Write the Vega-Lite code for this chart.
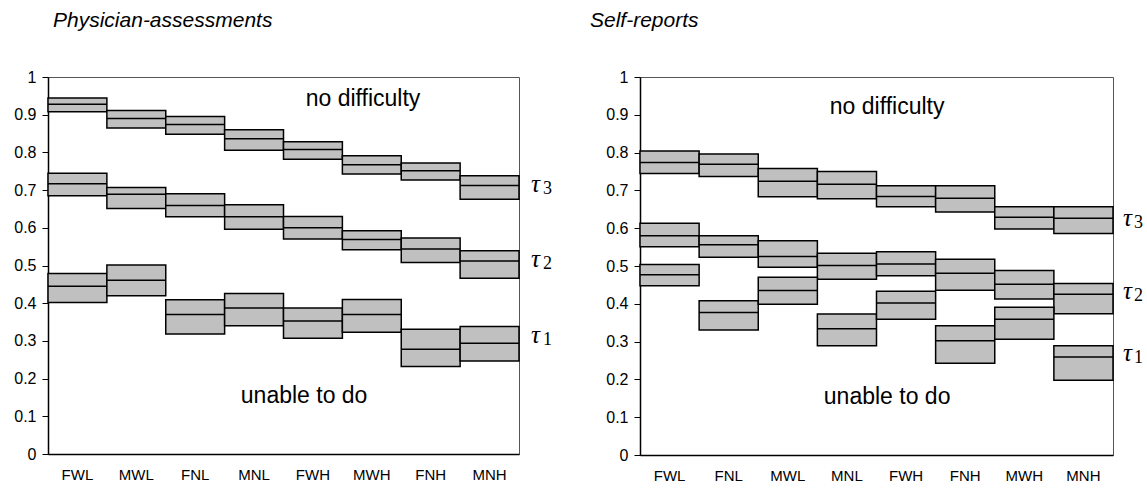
{
  "$schema": "https://vega.github.io/schema/vega-lite/v6.json",
  "background": "white",
  "padding": {"left": 13, "top": 9, "right": 5, "bottom": 5},
  "config": {
    "font": "Liberation Sans",
    "view": {"stroke": "#555555", "strokeWidth": 1},
    "axis": {"grid": false, "domainColor": "#000000", "domainWidth": 1.5, "tickColor": "#000000", "labelColor": "#000000", "labelFont": "Liberation Sans", "title": null},
    "axisX": {"ticks": false, "labelFontSize": 15, "labelPadding": 13, "labelAngle": 0},
    "title": {"font": "Liberation Sans", "fontStyle": "italic", "fontWeight": "normal", "fontSize": 21, "color": "#000000", "anchor": "start", "frame": "group"}
  },
  "datasets": {
    "boxes": [
      {"panel": "P", "cat": "FWL", "tau": "t3", "lo": 0.908, "mid": 0.928, "hi": 0.944},
      {"panel": "P", "cat": "MWL", "tau": "t3", "lo": 0.865, "mid": 0.890, "hi": 0.911},
      {"panel": "P", "cat": "FNL", "tau": "t3", "lo": 0.848, "mid": 0.874, "hi": 0.895},
      {"panel": "P", "cat": "MNL", "tau": "t3", "lo": 0.806, "mid": 0.836, "hi": 0.860},
      {"panel": "P", "cat": "FWH", "tau": "t3", "lo": 0.782, "mid": 0.808, "hi": 0.828},
      {"panel": "P", "cat": "MWH", "tau": "t3", "lo": 0.743, "mid": 0.767, "hi": 0.791},
      {"panel": "P", "cat": "FNH", "tau": "t3", "lo": 0.727, "mid": 0.751, "hi": 0.772},
      {"panel": "P", "cat": "MNH", "tau": "t3", "lo": 0.676, "mid": 0.712, "hi": 0.738},
      {"panel": "P", "cat": "FWL", "tau": "t2", "lo": 0.685, "mid": 0.717, "hi": 0.745},
      {"panel": "P", "cat": "MWL", "tau": "t2", "lo": 0.651, "mid": 0.689, "hi": 0.707},
      {"panel": "P", "cat": "FNL", "tau": "t2", "lo": 0.629, "mid": 0.659, "hi": 0.690},
      {"panel": "P", "cat": "MNL", "tau": "t2", "lo": 0.596, "mid": 0.629, "hi": 0.661},
      {"panel": "P", "cat": "FWH", "tau": "t2", "lo": 0.570, "mid": 0.600, "hi": 0.630},
      {"panel": "P", "cat": "MWH", "tau": "t2", "lo": 0.542, "mid": 0.569, "hi": 0.592},
      {"panel": "P", "cat": "FNH", "tau": "t2", "lo": 0.508, "mid": 0.544, "hi": 0.573},
      {"panel": "P", "cat": "MNH", "tau": "t2", "lo": 0.466, "mid": 0.512, "hi": 0.539},
      {"panel": "P", "cat": "FWL", "tau": "t1", "lo": 0.402, "mid": 0.445, "hi": 0.479},
      {"panel": "P", "cat": "MWL", "tau": "t1", "lo": 0.420, "mid": 0.461, "hi": 0.501},
      {"panel": "P", "cat": "FNL", "tau": "t1", "lo": 0.318, "mid": 0.370, "hi": 0.409},
      {"panel": "P", "cat": "MNL", "tau": "t1", "lo": 0.340, "mid": 0.387, "hi": 0.426},
      {"panel": "P", "cat": "FWH", "tau": "t1", "lo": 0.307, "mid": 0.353, "hi": 0.387},
      {"panel": "P", "cat": "MWH", "tau": "t1", "lo": 0.323, "mid": 0.370, "hi": 0.410},
      {"panel": "P", "cat": "FNH", "tau": "t1", "lo": 0.232, "mid": 0.278, "hi": 0.331},
      {"panel": "P", "cat": "MNH", "tau": "t1", "lo": 0.247, "mid": 0.294, "hi": 0.338},
      {"panel": "S", "cat": "FWL", "tau": "t3", "lo": 0.745, "mid": 0.774, "hi": 0.804},
      {"panel": "S", "cat": "FNL", "tau": "t3", "lo": 0.737, "mid": 0.769, "hi": 0.796},
      {"panel": "S", "cat": "MWL", "tau": "t3", "lo": 0.683, "mid": 0.724, "hi": 0.758},
      {"panel": "S", "cat": "MNL", "tau": "t3", "lo": 0.678, "mid": 0.716, "hi": 0.750},
      {"panel": "S", "cat": "FWH", "tau": "t3", "lo": 0.657, "mid": 0.684, "hi": 0.712},
      {"panel": "S", "cat": "FNH", "tau": "t3", "lo": 0.643, "mid": 0.679, "hi": 0.712},
      {"panel": "S", "cat": "MWH", "tau": "t3", "lo": 0.598, "mid": 0.629, "hi": 0.657},
      {"panel": "S", "cat": "MNH", "tau": "t3", "lo": 0.586, "mid": 0.626, "hi": 0.657},
      {"panel": "S", "cat": "FWL", "tau": "t2", "lo": 0.551, "mid": 0.580, "hi": 0.613},
      {"panel": "S", "cat": "FNL", "tau": "t2", "lo": 0.523, "mid": 0.556, "hi": 0.580},
      {"panel": "S", "cat": "MWL", "tau": "t2", "lo": 0.497, "mid": 0.525, "hi": 0.567},
      {"panel": "S", "cat": "MNL", "tau": "t2", "lo": 0.465, "mid": 0.501, "hi": 0.534},
      {"panel": "S", "cat": "FWH", "tau": "t2", "lo": 0.474, "mid": 0.505, "hi": 0.538},
      {"panel": "S", "cat": "FNH", "tau": "t2", "lo": 0.436, "mid": 0.481, "hi": 0.518},
      {"panel": "S", "cat": "MWH", "tau": "t2", "lo": 0.413, "mid": 0.452, "hi": 0.488},
      {"panel": "S", "cat": "MNH", "tau": "t2", "lo": 0.374, "mid": 0.425, "hi": 0.454},
      {"panel": "S", "cat": "FWL", "tau": "t1", "lo": 0.448, "mid": 0.477, "hi": 0.504},
      {"panel": "S", "cat": "FNL", "tau": "t1", "lo": 0.331, "mid": 0.377, "hi": 0.408},
      {"panel": "S", "cat": "MWL", "tau": "t1", "lo": 0.399, "mid": 0.435, "hi": 0.470},
      {"panel": "S", "cat": "MNL", "tau": "t1", "lo": 0.289, "mid": 0.334, "hi": 0.373},
      {"panel": "S", "cat": "FWH", "tau": "t1", "lo": 0.359, "mid": 0.402, "hi": 0.433},
      {"panel": "S", "cat": "FNH", "tau": "t1", "lo": 0.243, "mid": 0.302, "hi": 0.342},
      {"panel": "S", "cat": "MWH", "tau": "t1", "lo": 0.306, "mid": 0.359, "hi": 0.391},
      {"panel": "S", "cat": "MNH", "tau": "t1", "lo": 0.198, "mid": 0.259, "hi": 0.289}
    ],
    "notes": [
      {"panel": "P", "cat": "MWH", "label": "no difficulty", "y": 0.942},
      {"panel": "P", "cat": "FWH", "label": "unable to do", "y": 0.154},
      {"panel": "S", "cat": "FWH", "label": "no difficulty", "y": 0.921},
      {"panel": "S", "cat": "FWH", "label": "unable to do", "y": 0.154}
    ],
    "taus": [
      {"panel": "P", "cat": "MNH", "sym": "τ", "sub": "3", "y": 0.716},
      {"panel": "P", "cat": "MNH", "sym": "τ", "sub": "2", "y": 0.517},
      {"panel": "P", "cat": "MNH", "sym": "τ", "sub": "1", "y": 0.315},
      {"panel": "S", "cat": "MNH", "sym": "τ", "sub": "3", "y": 0.627},
      {"panel": "S", "cat": "MNH", "sym": "τ", "sub": "2", "y": 0.434},
      {"panel": "S", "cat": "MNH", "sym": "τ", "sub": "1", "y": 0.270}
    ]
  },
  "spacing": 121,
  "bounds": "flush",
  "hconcat": [
    {
      "title": {"text": "Physician-assessments", "dx": 5, "offset": 38},
      "width": 471,
      "height": 377,
      "encoding": {
        "x": {"field": "cat", "type": "nominal", "sort": ["FWL", "MWL", "FNL", "MNL", "FWH", "MWH", "FNH", "MNH"], "scale": {"paddingInner": 0, "paddingOuter": 0}},
        "y": {"field": "lo", "type": "quantitative", "scale": {"domain": [0, 1], "nice": false},
              "axis": {"values": [0, 0.1, 0.2, 0.3, 0.4, 0.5, 0.6, 0.7, 0.8, 0.9, 1], "labelExpr": "datum.value == 0 ? '0' : datum.value == 1 ? '1' : format(datum.value, '.1f')", "labelOverlap": false, "labelSeparation": 0, "labelFontSize": 16, "tickSize": 6, "labelPadding": 6}}
      },
      "layer": [
        {
          "data": {"name": "boxes"},
          "transform": [{"filter": "datum.panel == 'P'"}],
          "mark": {"type": "rect", "fill": "#c0c0c0", "stroke": "#000000", "strokeWidth": 1.5},
          "encoding": {"y2": {"field": "hi"}}
        },
        {
          "data": {"name": "boxes"},
          "transform": [{"filter": "datum.panel == 'P'"}],
          "mark": {"type": "rect", "fill": "#000000", "stroke": "#000000", "strokeWidth": 1.5},
          "encoding": {
            "y": {"field": "mid", "type": "quantitative"},
            "y2": {"field": "mid"}
          }
        },
        {
          "data": {"name": "notes"},
          "transform": [{"filter": "datum.panel == 'P'"}],
          "mark": {"type": "text", "fontSize": 23, "font": "Liberation Sans", "color": "#000000", "baseline": "middle"},
          "encoding": {
            "x": {"field": "cat", "type": "nominal", "sort": ["FWL", "MWL", "FNL", "MNL", "FWH", "MWH", "FNH", "MNH"], "bandPosition": 0.35},
            "y": {"field": "y", "type": "quantitative"},
            "text": {"field": "label"}
          }
        },
        {
          "data": {"name": "taus"},
          "transform": [{"filter": "datum.panel == 'P'"}],
          "mark": {"type": "text", "fontSize": 25, "font": "Liberation Serif", "fontStyle": "italic", "color": "#000000", "baseline": "middle", "align": "left", "dx": 12},
          "encoding": {
            "x": {"field": "cat", "type": "nominal", "sort": ["FWL", "MWL", "FNL", "MNL", "FWH", "MWH", "FNH", "MNH"], "bandPosition": 1},
            "y": {"field": "y", "type": "quantitative"},
            "text": {"field": "sym"}
          }
        },
        {
          "data": {"name": "taus"},
          "transform": [{"filter": "datum.panel == 'P'"}],
          "mark": {"type": "text", "fontSize": 18, "font": "Liberation Serif", "color": "#000000", "baseline": "middle", "align": "left", "dx": 24, "dy": 5},
          "encoding": {
            "x": {"field": "cat", "type": "nominal", "sort": ["FWL", "MWL", "FNL", "MNL", "FWH", "MWH", "FNH", "MNH"], "bandPosition": 1},
            "y": {"field": "y", "type": "quantitative"},
            "text": {"field": "sub"}
          }
        }
      ]
    },
    {
      "title": {"text": "Self-reports", "dx": -50, "offset": 38},
      "width": 473,
      "height": 378,
      "encoding": {
        "x": {"field": "cat", "type": "nominal", "sort": ["FWL", "FNL", "MWL", "MNL", "FWH", "FNH", "MWH", "MNH"], "scale": {"paddingInner": 0, "paddingOuter": 0}},
        "y": {"field": "lo", "type": "quantitative", "scale": {"domain": [0, 1], "nice": false},
              "axis": {"values": [0, 0.1, 0.2, 0.3, 0.4, 0.5, 0.6, 0.7, 0.8, 0.9, 1], "labelExpr": "datum.value == 0 ? '0' : datum.value == 1 ? '1' : format(datum.value, '.1f')", "labelOverlap": false, "labelSeparation": 0, "labelFontSize": 16, "tickSize": 6, "labelPadding": 6}}
      },
      "layer": [
        {
          "data": {"name": "boxes"},
          "transform": [{"filter": "datum.panel == 'S'"}],
          "mark": {"type": "rect", "fill": "#c0c0c0", "stroke": "#000000", "strokeWidth": 1.5},
          "encoding": {"y2": {"field": "hi"}}
        },
        {
          "data": {"name": "boxes"},
          "transform": [{"filter": "datum.panel == 'S'"}],
          "mark": {"type": "rect", "fill": "#000000", "stroke": "#000000", "strokeWidth": 1.5},
          "encoding": {
            "y": {"field": "mid", "type": "quantitative"},
            "y2": {"field": "mid"}
          }
        },
        {
          "data": {"name": "notes"},
          "transform": [{"filter": "datum.panel == 'S'"}],
          "mark": {"type": "text", "fontSize": 23, "font": "Liberation Sans", "color": "#000000", "baseline": "middle"},
          "encoding": {
            "x": {"field": "cat", "type": "nominal", "sort": ["FWL", "FNL", "MWL", "MNL", "FWH", "FNH", "MWH", "MNH"], "bandPosition": 0.18},
            "y": {"field": "y", "type": "quantitative"},
            "text": {"field": "label"}
          }
        },
        {
          "data": {"name": "taus"},
          "transform": [{"filter": "datum.panel == 'S'"}],
          "mark": {"type": "text", "fontSize": 25, "font": "Liberation Serif", "fontStyle": "italic", "color": "#000000", "baseline": "middle", "align": "left", "dx": 10},
          "encoding": {
            "x": {"field": "cat", "type": "nominal", "sort": ["FWL", "FNL", "MWL", "MNL", "FWH", "FNH", "MWH", "MNH"], "bandPosition": 1},
            "y": {"field": "y", "type": "quantitative"},
            "text": {"field": "sym"}
          }
        },
        {
          "data": {"name": "taus"},
          "transform": [{"filter": "datum.panel == 'S'"}],
          "mark": {"type": "text", "fontSize": 18, "font": "Liberation Serif", "color": "#000000", "baseline": "middle", "align": "left", "dx": 21, "dy": 5},
          "encoding": {
            "x": {"field": "cat", "type": "nominal", "sort": ["FWL", "FNL", "MWL", "MNL", "FWH", "FNH", "MWH", "MNH"], "bandPosition": 1},
            "y": {"field": "y", "type": "quantitative"},
            "text": {"field": "sub"}
          }
        }
      ]
    }
  ]
}
